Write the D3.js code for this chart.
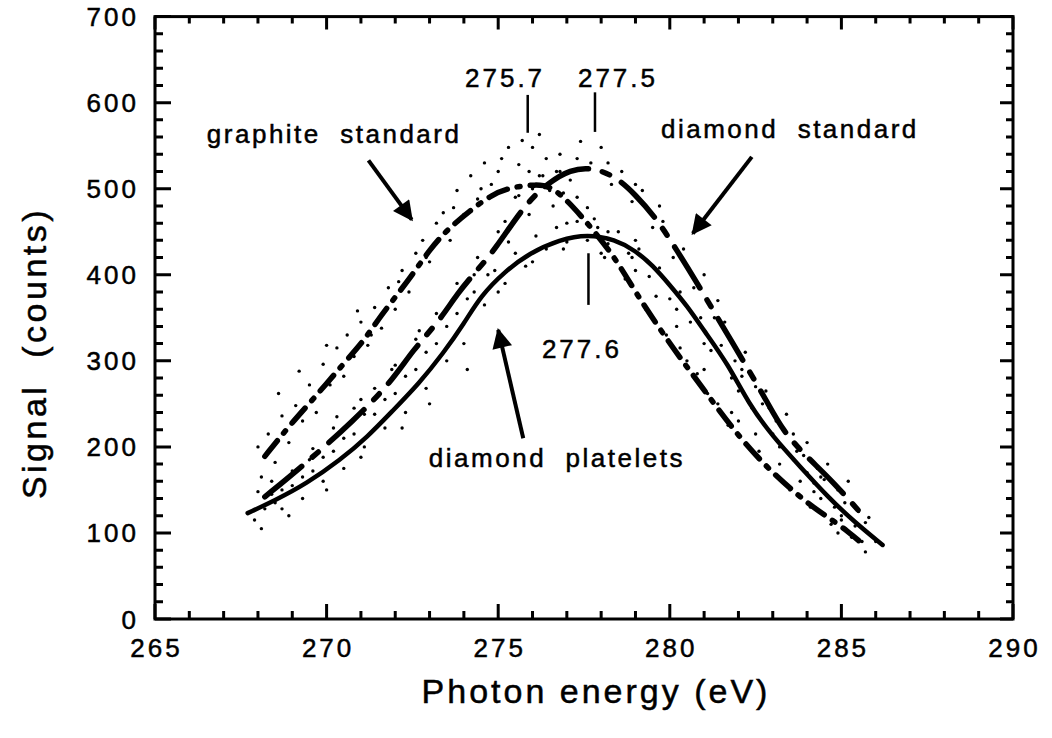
<!DOCTYPE html>
<html>
<head>
<meta charset="utf-8">
<script src="https://cdn.jsdelivr.net/npm/d3@7"></script>
<style>
  body { margin: 0; background: #fff; }
  text { font-family: "Liberation Sans", Arial, sans-serif; fill: #000; stroke: #000; stroke-width: 0.5px; }
</style>
</head>
<body>
<div id="chart"></div>
<script>
// axis ticks
var xTicks = [265, 270, 275, 280, 285, 290];
var yTicks = [0, 100, 200, 300, 400, 500, 600, 700];

// fitted curves (photon energy eV, counts)
var plateletsCurve = [[267.7,123],[268.5,138],[269.4,157],[270.4,185],[271.2,212],[271.9,241],[272.7,274],[273.4,309],[274.0,343],[274.5,376],[275.2,404],[275.9,425],[276.8,441],[277.6,447],[278.4,441],[279.0,428],[279.5,411],[280.0,388],[280.5,364],[281.0,335],[281.7,296],[282.3,250],[283.0,212],[283.8,177],[284.6,142],[285.4,112],[286.2,86]];
var diamondCurve = [[268.2,142],[269.4,181],[270.8,231],[271.9,276],[272.5,312],[273.3,347],[273.8,378],[274.4,406],[274.9,429],[275.8,483],[276.5,508],[277.1,522],[277.7,525],[278.4,515],[279.0,493],[279.6,466],[280.2,429],[280.8,390],[281.2,363],[281.9,316],[282.3,289],[282.8,255],[283.3,218],[284.0,188],[284.7,162],[285.7,117]];
var graphiteCurve = [[268.2,189],[268.9,224],[269.6,255],[270.5,297],[271.1,324],[271.5,348],[272.0,374],[272.5,400],[273.0,429],[273.5,452],[274.2,475],[274.8,493],[275.4,502],[276.1,505],[276.6,503],[277.4,470],[278.4,421],[279.0,379],[280.0,320],[280.5,293],[281.0,266],[282.0,212],[283.0,169],[284.0,135],[284.5,121],[285.2,102],[285.7,84]];

// raw data points
var graphitePts = [[268.0,200],[268.1,165],[268.3,215],[268.5,182],[268.7,236],[268.9,205],[269.1,248],[269.3,230],[269.5,272],[269.7,240],[269.9,296],[270.1,272],[270.3,315],[270.5,282],[270.6,330],[270.8,305],[271.0,345],[271.2,318],[271.4,362],[271.6,338],[271.8,385],[272.0,360],[272.2,405],[272.4,380],[272.6,425],[272.8,440],[273.0,415],[273.2,460],[273.4,472],[273.6,440],[273.8,498],[274.0,470],[274.2,515],[274.4,488],[274.6,530],[274.8,505],[275.0,520],[275.3,548],[275.5,490],[275.7,556],[275.9,520],[276.2,563],[276.4,535],[276.6,480],[276.8,520],[277.0,460],[277.3,490],[277.5,445],[277.8,465],[278.1,420],[278.4,440],[278.7,395],[279.0,405],[279.3,360],[279.6,375],[279.9,330],[280.2,340],[280.5,300],[280.8,285],[281.1,262],[281.4,250],[281.7,225],[282.0,230],[282.3,200],[282.6,195],[282.9,175],[283.2,180],[283.5,150],[283.8,160],[284.1,130],[284.4,140],[284.7,110],[285.0,115],[285.3,95],[285.6,90],[285.7,78],
    [268.6,262],[269.2,288],[270.0,318],[270.9,358],[271.3,330],[272.1,392],[272.9,420],[273.7,478],[274.5,500],[275.1,535],[275.6,528],[276.0,548],[276.3,515],[276.9,495],[277.6,478],[278.2,450],[278.9,420],[279.5,350],[280.3,315],[281.0,290],[281.8,240],[282.5,215],[283.3,160],[284.2,148],[284.9,100]];
var diamondPts = [[268.0,148],[268.2,128],[268.4,160],[268.7,150],[269.0,172],[269.3,165],[269.6,198],[269.9,188],[270.2,222],[270.5,210],[270.8,245],[271.1,238],[271.4,268],[271.7,255],[272.0,295],[272.3,282],[272.6,325],[272.9,310],[273.2,355],[273.5,340],[273.8,390],[274.1,372],[274.4,420],[274.7,400],[275.0,450],[275.3,438],[275.6,492],[275.9,470],[276.2,515],[276.5,498],[276.8,540],[277.1,510],[277.4,555],[277.7,530],[278.0,548],[278.3,505],[278.6,520],[278.9,485],[279.2,498],[279.5,455],[279.8,462],[280.1,420],[280.4,430],[280.7,385],[281.0,400],[281.3,350],[281.6,345],[281.9,300],[282.2,310],[282.5,270],[282.8,265],[283.1,230],[283.4,238],[283.7,195],[284.0,205],[284.3,175],[284.6,180],[284.9,150],[285.2,160],[285.5,125],[285.8,118],
    [268.5,135],[269.5,185],[270.3,235],[271.0,255],[271.9,290],[272.7,335],[273.6,365],[274.3,400],[275.2,462],[276.0,500],[276.7,520],[277.3,535],[278.2,530],[279.0,505],[279.7,480],[280.5,410],[281.4,370],[282.1,290],[282.9,245],[283.6,215],[284.4,165]];
var plateletsPts = [[267.9,115],[268.1,105],[268.4,145],[268.7,128],[269.0,155],[269.3,140],[269.6,172],[269.9,160],[270.2,195],[270.5,175],[270.8,215],[271.1,200],[271.4,238],[271.7,222],[272.0,262],[272.3,240],[272.6,290],[272.9,268],[273.2,320],[273.5,300],[273.8,355],[274.1,290],[274.3,380],[274.6,365],[274.9,405],[275.2,390],[275.5,425],[275.8,410],[276.1,445],[276.4,430],[276.7,455],[277.0,438],[277.3,462],[277.6,440],[277.9,455],[278.2,436],[278.5,450],[278.8,425],[279.1,430],[279.4,398],[279.7,408],[280.0,372],[280.3,380],[280.6,345],[280.9,350],[281.2,312],[281.5,318],[281.8,280],[282.1,282],[282.4,245],[282.7,250],[283.0,215],[283.3,220],[283.6,185],[283.9,190],[284.2,158],[284.5,162],[284.8,130],[285.1,135],[285.4,108],[285.7,112],[286.0,90],
    [268.9,120],[270.0,150],[271.0,188],[272.2,222],[273.0,250],[274.0,320],[275.0,380],[276.0,415],[276.9,430],[278.0,425],[279.0,440],[280.2,360],[281.0,320],[282.0,265],[283.2,200],[284.0,170],[285.0,120]];

// peak markers and labels
var peakLabels = ["275.7", "277.5", "277.6"];
var seriesLabels = ["graphite  standard", "diamond  standard", "diamond  platelets"];

var width = 1052, height = 738;
var x = d3.scaleLinear().domain([265, 290]).range([155, 1013]);
var y = d3.scaleLinear().domain([0, 700]).range([619, 16.6]);

var svg = d3.select('#chart').append('svg')
    .attr('width', width)
    .attr('height', height);

svg.append('rect').attr('width', width).attr('height', height).attr('fill', '#fff');

var minorX = d3.range(265, 291, 1).filter(d => d % 5 != 0);
var minorY = d3.range(0, 701, 20).filter(d => d % 100 != 0);

// tick labels
svg.append('g').selectAll('text')
    .data(xTicks).enter().append('text')
    .attr('x', d => x(d) + 1.5).attr('y', 657)
    .attr('text-anchor', 'middle')
    .style('font-size', '26px').style('letter-spacing', '3px')
    .text(d => d);
svg.append('g').selectAll('text')
    .data(yTicks).enter().append('text')
    .attr('x', 139).attr('y', d => y(d) + 9.5)
    .attr('text-anchor', 'end')
    .style('font-size', '26px').style('letter-spacing', '3px')
    .text(d => d);

// frame
svg.append('rect')
    .attr('x', x(265)).attr('y', y(700))
    .attr('width', x(290) - x(265)).attr('height', y(0) - y(700))
    .attr('fill', 'none').attr('stroke', '#000').attr('stroke-width', 3);

// inward ticks on all four sides, one path
var tp = d3.path();
xTicks.forEach(d => {
    tp.moveTo(x(d), y(0)); tp.lineTo(x(d), y(0) - 15);
    tp.moveTo(x(d), y(700)); tp.lineTo(x(d), y(700) + 13);
});
minorX.forEach(d => {
    tp.moveTo(x(d), y(0)); tp.lineTo(x(d), y(0) - 8);
    tp.moveTo(x(d), y(700)); tp.lineTo(x(d), y(700) + 7);
});
yTicks.forEach(d => {
    tp.moveTo(x(265), y(d)); tp.lineTo(x(265) + 16, y(d));
    tp.moveTo(x(290), y(d)); tp.lineTo(x(290) - 13, y(d));
});
minorY.forEach(d => {
    tp.moveTo(x(265), y(d)); tp.lineTo(x(265) + 8, y(d));
    tp.moveTo(x(290), y(d)); tp.lineTo(x(290) - 7, y(d));
});
svg.append('path')
    .attr('d', tp.toString())
    .attr('fill', 'none')
    .attr('stroke', '#000')
    .attr('stroke-width', 3);

// scatter
var allPts = graphitePts.concat(diamondPts).concat(plateletsPts);
svg.append('g').selectAll('circle')
    .data(allPts)
    .enter().append('circle')
    .attr('cx', d => x(d[0]))
    .attr('cy', d => y(d[1]))
    .attr('r', 1.7)
    .attr('fill', '#000');

var line = d3.line().x(d => x(d[0])).y(d => y(d[1])).curve(d3.curveBasis);

svg.append('path').datum(plateletsCurve)
    .attr('d', line).attr('fill', 'none').attr('stroke', '#000')
    .attr('stroke-width', 4.5).attr('stroke-linecap', 'round');
svg.append('path').datum(diamondCurve)
    .attr('d', line).attr('fill', 'none').attr('stroke', '#000')
    .attr('stroke-width', 5.5).attr('stroke-linecap', 'round')
    .attr('stroke-dasharray', '48 14 8 14');
svg.append('path').datum(graphiteCurve)
    .attr('d', line).attr('fill', 'none').attr('stroke', '#000')
    .attr('stroke-width', 5.5).attr('stroke-linecap', 'round')
    .attr('stroke-dasharray', '20 10 3 10');

// peak markers
var markers = [
    { label: peakLabels[0], lx: 275.86, y1: 609, y2: 565, tx: 275.2, ty: 618 },
    { label: peakLabels[1], lx: 277.82, y1: 612, y2: 566, tx: 278.49, ty: 618 },
    { label: peakLabels[2], lx: 277.63, y1: 425, y2: 365, tx: 277.44, ty: 303 }
];
markers.forEach(m => {
    svg.append('line')
        .attr('x1', x(m.lx)).attr('x2', x(m.lx))
        .attr('y1', y(m.y1)).attr('y2', y(m.y2))
        .attr('stroke', '#000').attr('stroke-width', 2.5);
    svg.append('text')
        .attr('x', x(m.tx)).attr('y', y(m.ty))
        .attr('text-anchor', 'middle')
        .style('font-size', '26px').style('letter-spacing', '3px')
        .text(m.label);
});

// series labels with arrows
svg.append('defs').append('marker')
    .attr('id', 'head')
    .attr('viewBox', '0 0 10 10')
    .attr('refX', 9).attr('refY', 5)
    .attr('markerWidth', 6.5).attr('markerHeight', 5)
    .attr('markerUnits', 'strokeWidth')
    .attr('orient', 'auto')
    .append('path').attr('d', 'M0,0 L10,5 L0,10 z').attr('fill', '#000');

var notes = [
    { label: seriesLabels[0], tx: 270.22, ty: 553, a: [[271.22, 533], [272.48, 464]] },
    { label: seriesLabels[1], tx: 283.5, ty: 559, a: [[282.39, 537], [280.67, 448]] },
    { label: seriesLabels[2], tx: 276.71, ty: 177, a: [[275.73, 210], [275.0, 336]] }
];
notes.forEach(n => {
    svg.append('text')
        .attr('x', x(n.tx)).attr('y', y(n.ty))
        .attr('text-anchor', 'middle')
        .style('font-size', '26px').style('letter-spacing', '2.5px')
        .style('white-space', 'pre')
        .text(n.label);
    svg.append('line')
        .attr('x1', x(n.a[0][0])).attr('y1', y(n.a[0][1]))
        .attr('x2', x(n.a[1][0])).attr('y2', y(n.a[1][1]))
        .attr('stroke', '#000').attr('stroke-width', 4)
        .attr('marker-end', 'url(#head)');
});

// axis titles
svg.append('text')
    .attr('x', 596).attr('y', 703)
    .attr('text-anchor', 'middle')
    .style('font-size', '34px').style('letter-spacing', '3px')
    .text('Photon energy (eV)');
svg.append('text')
    .attr('transform', 'translate(46,353) rotate(-90)')
    .attr('text-anchor', 'middle')
    .style('font-size', '34px').style('letter-spacing', '3.5px')
    .style('white-space', 'pre')
    .text('Signal  (counts)');
</script>
</body>
</html>
